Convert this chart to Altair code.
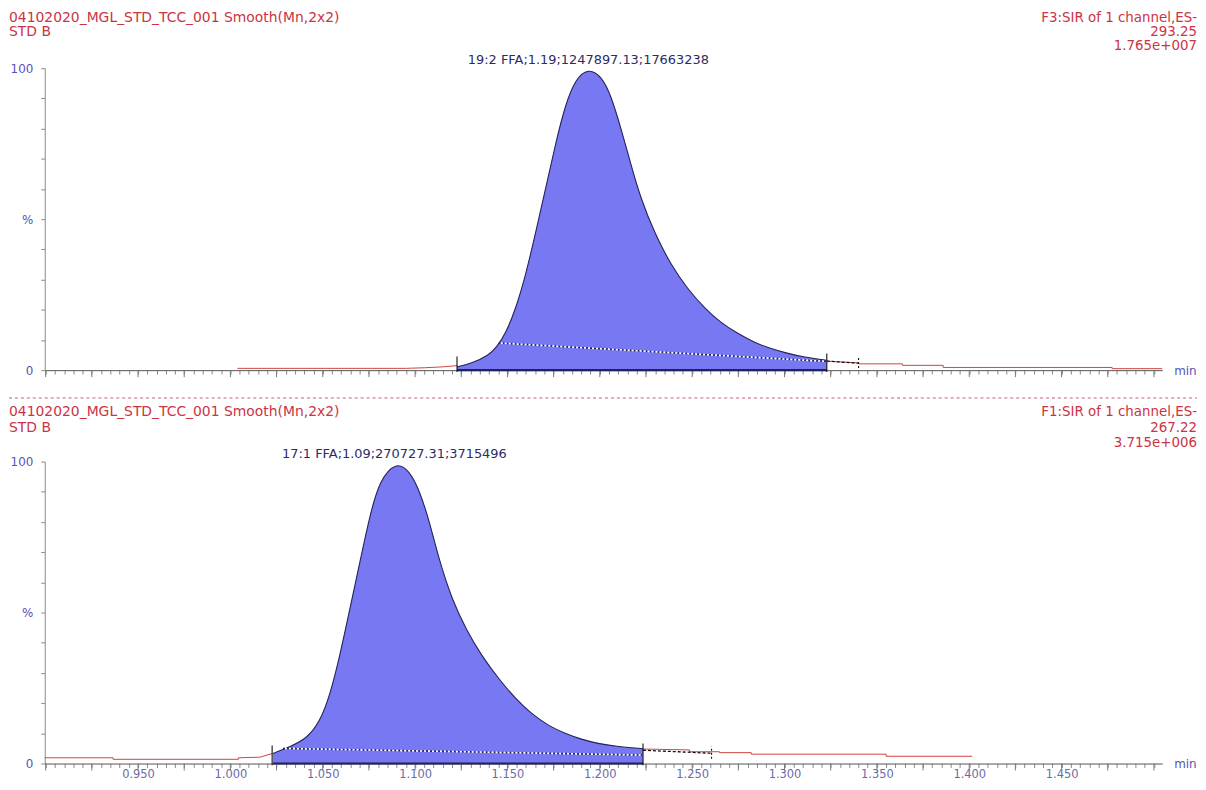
import altair as alt
import pandas as pd

# ---------------- data ----------------
X_MIN, X_MAX = 0.8995, 1.5045

# Top chromatogram (F3: 19:2 FFA)
top_peak_t = [1.1227, 1.1308, 1.1399, 1.1442, 1.1491, 1.1545, 1.1598, 1.1652, 1.1706, 1.1760,
              1.1814, 1.1868, 1.1938, 1.2008, 1.2061, 1.2115, 1.2169, 1.2223, 1.2298, 1.2384,
              1.2476, 1.2567, 1.2653, 1.2745, 1.2836, 1.2923, 1.3014, 1.3105, 1.3229]
top_peak_v = [1.1, 2.3, 4.9, 7.7, 12.2, 20.4, 31.3, 45.4, 59.9, 75.0,
              88.0, 96.4, 100.0, 97.4, 91.0, 80.0, 68.0, 56.6, 45.2, 35.0,
              26.8, 20.6, 15.8, 12.2, 9.2, 7.2, 5.6, 4.3, 3.3]
top_red_pre_t = [1.0038, 1.0950, 1.1050, 1.1150, 1.1227]
top_red_pre_v = [0.6, 0.6, 0.8, 1.1, 1.5]
top_red_post_t = [1.3229, 1.3401, 1.3401, 1.3638, 1.3638, 1.3859, 1.3859, 1.4774, 1.4774, 1.5045]
top_red_post_v = [3.0, 2.4, 2.1, 2.1, 1.6, 1.6, 0.9, 0.9, 0.5, 0.5]
top_ext_t = [1.3229, 1.3401]
top_ext_v = [3.0, 2.3]
top_base_t = [1.1453, 1.3229]
top_base_v = [9.0, 2.9]
top_mark_t = [1.1227, 1.3229]
top_mark_lo = [-0.6, -0.6]
top_mark_hi = [4.5, 5.5]
top_dmark_t = [1.3401]
top_dmark_lo = [0.7]
top_dmark_hi = [4.4]
top_label = ["19:2 FFA;1.19;1247897.13;17663238"]
top_label_t = [1.1938]
top_head_left = ["04102020_MGL_STD_TCC_001 Smooth(Mn,2x2)", "STD B"]
top_head_right = ["F3:SIR of 1 channel,ES-", "293.25", "1.765e+007"]

# Bottom chromatogram (F1: 17:1 FFA)
bot_peak_t = [1.0230, 1.0323, 1.0413, 1.0484, 1.0538, 1.0592, 1.0646, 1.0700, 1.0753, 1.0807,
              1.0897, 1.0969, 1.1023, 1.1076, 1.1130, 1.1200, 1.1276, 1.1362, 1.1453, 1.1545,
              1.1631, 1.1722, 1.1814, 1.1900, 1.1991, 1.2083, 1.2234]
bot_peak_v = [3.3, 5.6, 8.2, 13.8, 22.4, 35.5, 51.0, 66.4, 81.6, 93.8,
              100.0, 97.0, 90.5, 80.6, 67.4, 54.3, 44.4, 35.5, 28.0, 21.4,
              16.4, 12.5, 9.9, 8.0, 6.6, 5.7, 4.9]
bot_red_pre_t = [0.8995, 0.9365, 0.9365, 1.0043, 1.0043, 1.0160, 1.0226]
bot_red_pre_v = [1.9, 1.9, 1.4, 1.4, 1.9, 2.1, 3.3]
bot_red_post_t = [1.2234, 1.2486, 1.2486, 1.2648, 1.2648, 1.2820, 1.2820, 1.3550, 1.3550, 1.4016]
bot_red_post_v = [4.8, 4.5, 3.9, 3.9, 3.6, 3.6, 3.1, 3.1, 2.4, 2.4]
bot_ext_t = [1.2234, 1.2605]
bot_ext_v = [4.4, 3.4]
bot_base_t = [1.0285, 1.2234]
bot_base_v = [5.0, 2.8]
bot_mark_t = [1.0226, 1.2234]
bot_mark_lo = [-0.6, -0.6]
bot_mark_hi = [6.0, 6.6]
bot_dmark_t = [1.2605]
bot_dmark_lo = [1.6]
bot_dmark_hi = [5.6]
bot_label = ["17:1 FFA;1.09;270727.31;3715496"]
bot_label_t = [1.0888]
bot_head_left = ["04102020_MGL_STD_TCC_001 Smooth(Mn,2x2)", "STD B"]
bot_head_right = ["F1:SIR of 1 channel,ES-", "267.22", "3.715e+006"]

# axis ticks
x_minor_ticks = [round(0.900 + 0.005 * i, 3) for i in range(121)]
x_major_ticks = [round(0.900 + 0.025 * i, 3) for i in range(25)]
y_ticks = [0, 10, 20, 30, 40, 50, 60, 70, 80, 90, 100]
unit_label = ["min"]

# ---------------- style ----------------
FONT = "DejaVu Sans"
W = 1125
FILL = "#7878f2"
NAVY = "#22225a"
RED = "#cf4444"
HEAD_RED = "#cc3344"
LABEL_NAVY = "#2b2b66"
AXIS_BLUE = "#5a50b8"
CURVE = "basis"


def panel(h, d, show_x_labels, head_y, sep_y=None):
    xs = alt.Scale(domain=[X_MIN, X_MAX], nice=False, zero=False)
    ys = alt.Scale(domain=[0, 100], nice=False, zero=False)
    x_axis = alt.Axis(
        values=x_minor_ticks,
        labelExpr="abs(datum.value*20 - round(datum.value*20)) < 0.001 && datum.value > 0.92 && datum.value < 1.48 ? format(datum.value, '.3f') : ''",
        labels=show_x_labels, tickSize=4, tickColor="#8a8a8a", domainColor="#555555",
        grid=False, title=None, labelFontSize=11.5, labelColor="#6a6aa6", labelPadding=1,
        labelFont=FONT, labelFlush=False, labelOverlap=False,
    )
    y_axis = alt.Axis(
        values=y_ticks,
        labelExpr="datum.value == 100 ? '100' : datum.value == 50 ? '%' : datum.value == 0 ? '0' : ''",
        tickSize=4, tickColor="#8a8a8a", domainColor="#8a8a8a", grid=False, title=None,
        labelFontSize=12, labelColor=AXIS_BLUE, labelPadding=8, labelFont=FONT,
        labelOverlap=False, labelFlush=False,
    )

    def X(f):
        return alt.X(f, scale=xs, axis=x_axis)

    def Y(f):
        return alt.Y(f, scale=ys, axis=y_axis)

    peak_df = pd.DataFrame({"t": d["peak_t"], "v": d["peak_v"]})
    layers = []
    layers.append(alt.Chart(peak_df).mark_area(color=FILL, interpolate=CURVE, opacity=1).encode(
        x=X("t:Q"), y=Y("v:Q")))
    # major ticks
    layers.append(alt.Chart(pd.DataFrame({"t": x_major_ticks})).mark_rule(color="#7a7a7a", strokeWidth=1).encode(
        x=X("t:Q"), y=alt.value(h), y2=alt.value(h + 7)))
    # red traces
    for tt, vv in [(d["red_pre_t"], d["red_pre_v"]), (d["red_post_t"], d["red_post_v"])]:
        layers.append(alt.Chart(pd.DataFrame({"t": tt, "v": vv, "o": list(range(len(tt)))})).mark_line(
            color=RED, strokeWidth=1).encode(x=X("t:Q"), y=Y("v:Q"), order="o:Q"))
    # thick bottom of integrated area
    layers.append(alt.Chart(pd.DataFrame({"t": [d["peak_t"][0]], "b": [d["peak_t"][-1]], "v": [0]})).mark_rule(
        color=NAVY, strokeWidth=2.2).encode(x=X("t:Q"), x2="b:Q", y=Y("v:Q")))
    # outline
    layers.append(alt.Chart(peak_df).mark_line(color=NAVY, strokeWidth=1.1, interpolate=CURVE).encode(
        x=X("t:Q"), y=Y("v:Q")))
    # dotted baseline
    base_df = pd.DataFrame({"t": d["base_t"], "v": d["base_v"]})
    layers.append(alt.Chart(base_df).mark_line(color=NAVY, strokeWidth=1.6, strokeDash=[2, 2]).encode(
        x=X("t:Q"), y=Y("v:Q")))
    layers.append(alt.Chart(base_df).mark_line(color="white", strokeWidth=1.6, strokeDash=[2, 2], strokeDashOffset=2).encode(
        x=X("t:Q"), y=Y("v:Q")))
    # dashed extension
    layers.append(alt.Chart(pd.DataFrame({"t": d["ext_t"], "v": d["ext_v"]})).mark_line(
        color="#111111", strokeWidth=1.3, strokeDash=[3, 2]).encode(x=X("t:Q"), y=Y("v:Q")))
    # markers
    layers.append(alt.Chart(pd.DataFrame({"t": d["mark_t"], "v": d["mark_lo"], "hi": d["mark_hi"]})).mark_rule(
        color="#111111", strokeWidth=1.1).encode(x=X("t:Q"), y=Y("v:Q"), y2="hi:Q"))
    layers.append(alt.Chart(pd.DataFrame({"t": d["dmark_t"], "v": d["dmark_lo"], "hi": d["dmark_hi"]})).mark_rule(
        color="#111111", strokeWidth=1.1, strokeDash=[2, 2]).encode(x=X("t:Q"), y=Y("v:Q"), y2="hi:Q"))
    # peak label
    layers.append(alt.Chart(pd.DataFrame({"t": d["label_t"], "s": d["label"]})).mark_text(
        font=FONT, fontSize=13, color=LABEL_NAVY, baseline="middle", align="center").encode(
        x=X("t:Q"), y=alt.value(-8), text="s:N"))
    # headers
    for i, line in enumerate(d["head_left"]):
        layers.append(alt.Chart(pd.DataFrame({"s": [line]})).mark_text(
            font=FONT, fontSize=14, color=HEAD_RED, align="left", baseline="middle").encode(
            x=alt.value(-36), y=alt.value(head_y[i]), text="s:N"))
    for i, line in enumerate(d["head_right"]):
        layers.append(alt.Chart(pd.DataFrame({"s": [line]})).mark_text(
            font=FONT, fontSize=13.5, color=HEAD_RED, align="right", baseline="middle").encode(
            x=alt.value(1160), y=alt.value(head_y[i]), text="s:N"))
    # unit label
    layers.append(alt.Chart(pd.DataFrame({"s": unit_label})).mark_text(
        font=FONT, fontSize=12, color="#5555b5", align="left", baseline="middle").encode(
        x=alt.value(W + 12), y=alt.value(h + 1), text="s:N"))
    if sep_y is not None:
        layers.append(alt.Chart(pd.DataFrame({"k": [0]})).mark_rule(
            color="#c8606e", strokeWidth=1, strokeDash=[3, 3]).encode(
            x=alt.value(-36), x2=alt.value(1160), y=alt.value(sep_y)))
    return alt.layer(*layers).properties(width=W, height=h)


top = panel(304, dict(peak_t=top_peak_t, peak_v=top_peak_v, red_pre_t=top_red_pre_t, red_pre_v=top_red_pre_v,
                      red_post_t=top_red_post_t, red_post_v=top_red_post_v, ext_t=top_ext_t, ext_v=top_ext_v,
                      base_t=top_base_t, base_v=top_base_v, mark_t=top_mark_t, mark_lo=top_mark_lo,
                      mark_hi=top_mark_hi, dmark_t=top_dmark_t, dmark_lo=top_dmark_lo, dmark_hi=top_dmark_hi,
                      label=top_label, label_t=top_label_t, head_left=top_head_left, head_right=top_head_right),
            False, [-51, -36, -22], sep_y=332)
bottom = panel(304, dict(peak_t=bot_peak_t, peak_v=bot_peak_v, red_pre_t=bot_red_pre_t, red_pre_v=bot_red_pre_v,
                         red_post_t=bot_red_post_t, red_post_v=bot_red_post_v, ext_t=bot_ext_t, ext_v=bot_ext_v,
                         base_t=bot_base_t, base_v=bot_base_v, mark_t=bot_mark_t, mark_lo=bot_mark_lo,
                         mark_hi=bot_mark_hi, dmark_t=bot_dmark_t, dmark_lo=bot_dmark_lo, dmark_hi=bot_dmark_hi,
                         label=bot_label, label_t=bot_label_t, head_left=bot_head_left, head_right=bot_head_right),
               True, [-50, -34, -19])

chart = alt.vconcat(top, bottom, spacing=6).properties(padding=0).configure(
    font=FONT, view=alt.ViewConfig(stroke=None))
chart.save("out.html", embed_options={"renderer": "svg", "actions": False})
